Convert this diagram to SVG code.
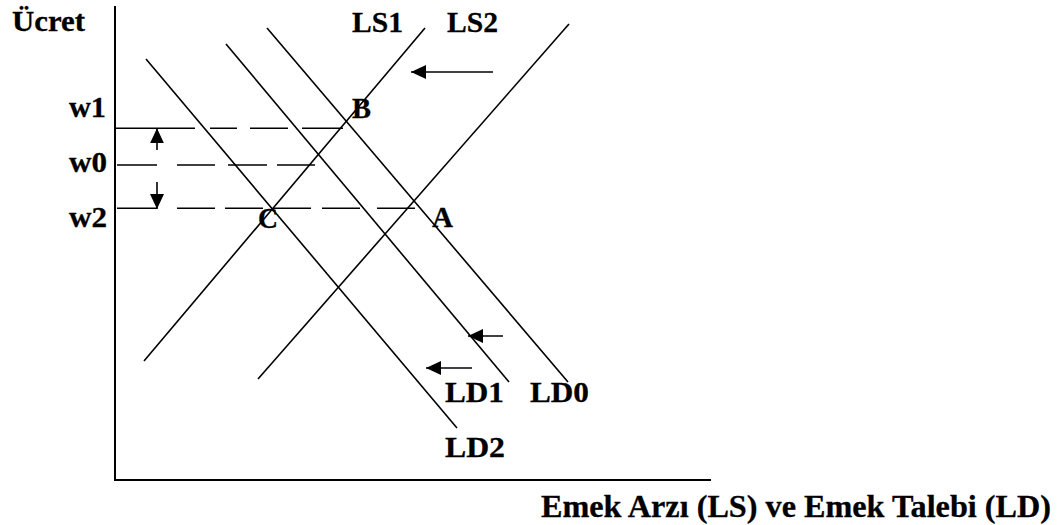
<svg xmlns="http://www.w3.org/2000/svg" width="1063" height="525" viewBox="0 0 1063 525">
<style>
.ln{stroke:#000;stroke-width:1.6;fill:none}
.ax{stroke:#000;stroke-width:2;fill:none}
.ds{stroke:#000;stroke-width:1.6;fill:none}
.t{font-family:"Liberation Serif","Times New Roman",serif;font-weight:bold;font-size:30px;fill:#000;stroke:#000;stroke-width:0.3}
.tt{font-family:"Liberation Serif","Times New Roman",serif;font-weight:bold;font-size:32px;fill:#000;stroke:#000;stroke-width:0.3}
</style>
<defs>
<marker id="ah" viewBox="0 0 15 14" refX="15" refY="7" markerWidth="15" markerHeight="14" markerUnits="userSpaceOnUse" orient="auto">
<path d="M0,0 L15,7 L0,14 z" fill="#000"/>
</marker>
</defs>
<rect width="1063" height="525" fill="#fff"/>
<g id="axes">
<line class="ax" x1="115" y1="6" x2="115" y2="481"/>
<line class="ax" x1="114" y1="480" x2="711" y2="480"/>
</g>
<g id="curves">
<line id="LS1" class="ln" x1="144" y1="361" x2="425" y2="28"/>
<line id="LS2" class="ln" x1="258" y1="379" x2="569" y2="24"/>
<line id="LD2" class="ln" x1="146" y1="59" x2="457" y2="428"/>
<line id="LD1" class="ln" x1="226" y1="44" x2="509" y2="382"/>
<line id="LD0" class="ln" x1="267" y1="28" x2="568" y2="382"/>
</g>
<g id="dashes">
<path class="ds" d="M115,128.3H195M210,128.3H237M250,128.3H288M302,128.3H343"/>
<path class="ds" d="M117,165H157M177,165H215M228,165H267M277,165H315"/>
<path class="ds" d="M117,208.3H157M177,208.3H215M225,208.3H263M273,208.3H311M322,208.3H360M377,208.3H415"/>
</g>
<g id="arrows">
<line class="ln" x1="157" y1="150" x2="157" y2="128.3" marker-end="url(#ah)"/>
<line class="ln" x1="157" y1="182" x2="157" y2="209" marker-end="url(#ah)"/>
<line class="ln" x1="493" y1="72" x2="411" y2="72" marker-end="url(#ah)"/>
<line class="ln" x1="503" y1="336" x2="468" y2="336" marker-end="url(#ah)"/>
<line class="ln" x1="472" y1="368" x2="426" y2="368" marker-end="url(#ah)"/>
</g>
<g id="labels">
<text class="t" x="12" y="31" textLength="73" lengthAdjust="spacingAndGlyphs">Ücret</text>
<text class="t" x="352" y="32" textLength="51" lengthAdjust="spacingAndGlyphs">LS1</text>
<text class="t" x="447" y="32" textLength="51" lengthAdjust="spacingAndGlyphs">LS2</text>
<text class="t" x="69" y="117" textLength="37" lengthAdjust="spacingAndGlyphs">w1</text>
<text class="t" x="69" y="172" textLength="38" lengthAdjust="spacingAndGlyphs">w0</text>
<text class="t" x="69" y="227" textLength="38" lengthAdjust="spacingAndGlyphs">w2</text>
<text class="t" x="352" y="118" textLength="19" lengthAdjust="spacingAndGlyphs">B</text>
<text class="t" x="258" y="228" textLength="20" lengthAdjust="spacingAndGlyphs">C</text>
<text class="t" x="432" y="227" textLength="21" lengthAdjust="spacingAndGlyphs">A</text>
<text class="t" x="445" y="402" textLength="59" lengthAdjust="spacingAndGlyphs">LD1</text>
<text class="t" x="530" y="402" textLength="59" lengthAdjust="spacingAndGlyphs">LD0</text>
<text class="t" x="445" y="457" textLength="60" lengthAdjust="spacingAndGlyphs">LD2</text>
<text class="tt" x="541" y="517" textLength="510" lengthAdjust="spacingAndGlyphs">Emek Arzı (LS) ve Emek Talebi (LD)</text>
</g>
</svg>
